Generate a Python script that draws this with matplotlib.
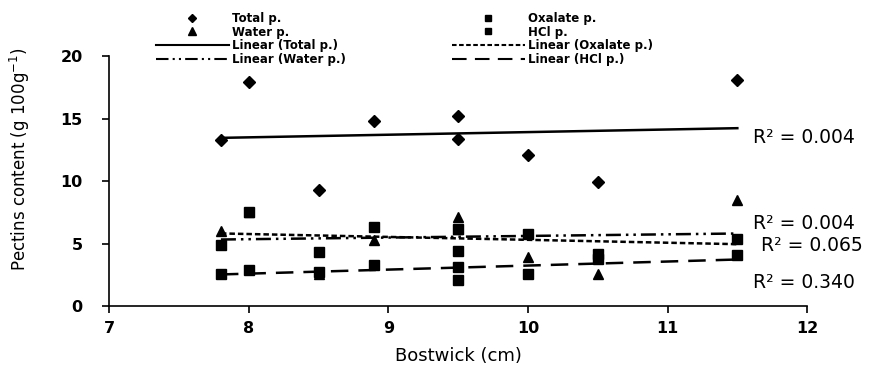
import numpy as np
import matplotlib
matplotlib.use("Agg")
import matplotlib.pyplot as plt
from matplotlib.lines import Line2D

plt.rcParams["font.family"] = ["DejaVu Sans"]

# Bostwick values (cm), shared by all series
bostwick = [7.8, 8.0, 8.5, 8.9, 9.5, 9.5, 10.0, 10.5, 11.5]

# pectin fractions (g 100g-1)
total_p = [13.3, 17.9, 9.3, 14.8, 15.2, 13.4, 12.1, 9.9, 18.1]
oxalate_p = [4.9, 7.5, 4.3, 6.3, 6.2, 4.4, 5.8, 4.2, 5.4]
water_p = [6.0, 7.5, 2.6, 5.3, 7.1, 6.2, 3.9, 2.6, 8.5]
hcl_p = [2.6, 2.9, 2.75, 3.3, 3.1, 2.1, 2.6, 3.8, 4.1]

r2_labels = ["R\u00b2 = 0.004", "R\u00b2 = 0.004", "R\u00b2 = 0.065", "R\u00b2 = 0.340"]

fig = plt.figure(figsize=(8.72, 3.69), dpi=100)
ax = fig.add_axes([0.1253, 0.1707, 0.8003, 0.6775])

x = np.array(bostwick)
xfit = np.array([min(bostwick), max(bostwick)])

# water first so the oxalate squares sit on top of it
series = [
    (water_p, "^", 6.5, (0, (6, 2, 1, 2, 1, 2))),
    (oxalate_p, "s", 6.5, (0, (2.2, 1.2))),
    (hcl_p, "s", 6.5, (0, (7, 4))),
    (total_p, "D", 6, "-"),
]

for y, mk, ms, ls in series:
    ax.plot(x, y, linestyle="none", marker=mk, markersize=ms, color="black")
    k, b = np.polyfit(x, y, 1)
    ax.plot(xfit, k * xfit + b, linestyle=ls, color="black", linewidth=1.8)

# R² labels next to trend lines
ax.text(11.61, 13.45, r2_labels[0], fontsize=13.5, va="center")
ax.text(11.61, 6.6, r2_labels[1], fontsize=13.5, va="center")
ax.text(11.67, 4.85, r2_labels[2], fontsize=13.5, va="center")
ax.text(11.61, 1.9, r2_labels[3], fontsize=13.5, va="center")

ax.set_xlim(7, 12)
ax.set_ylim(0, 20)
ax.set_xticks([7, 8, 9, 10, 11, 12])
ax.set_yticks([0, 5, 10, 15, 20])
for side in ["top", "right"]:
    ax.spines[side].set_visible(False)
ax.spines["left"].set_linewidth(1.2)
ax.spines["bottom"].set_linewidth(1.2)
ax.tick_params(axis="x", length=5, width=1.2, pad=6, labelsize=11.5)
ax.tick_params(axis="y", length=5, width=1.2, pad=14, labelsize=11.5)
for lab in ax.get_xticklabels() + ax.get_yticklabels():
    lab.set_fontweight("bold")

ax.set_xlabel("Bostwick (cm)", fontsize=13)
ax.xaxis.set_label_coords(0.5, -0.165)
ax.set_ylabel("Pectins content (g 100g$^{-1}$)", fontsize=12)
ax.yaxis.set_label_coords(-0.11, 0.585)

handles = [
    Line2D([], [], linestyle="none", marker="D", markersize=4.5, color="black"),
    Line2D([], [], linestyle="none", marker="^", markersize=5.5, color="black"),
    Line2D([], [], linestyle="-", color="black", linewidth=1.5),
    Line2D([], [], linestyle=(0, (6, 2, 1, 2, 1, 2)), color="black", linewidth=1.5),
    Line2D([], [], linestyle="none", marker="s", markersize=5, color="black"),
    Line2D([], [], linestyle="none", marker="s", markersize=5, color="black"),
    Line2D([], [], linestyle=(0, (2.2, 1.2)), color="black", linewidth=1.5),
    Line2D([], [], linestyle=(0, (7, 4)), color="black", linewidth=1.5),
]
labels = ["Total p.", "Water p.", "Linear (Total p.)", "Linear (Water p.)",
          "Oxalate p.", "HCl p.", "Linear (Oxalate p.)", "Linear (HCl p.)"]
fig.legend(handles, labels, ncol=2, loc="upper left", bbox_to_anchor=(0.169, 0.99),
           frameon=False, prop={"size": 8.5, "weight": "bold"}, handlelength=6.2,
           handletextpad=0.25, labelspacing=0.05, columnspacing=9, borderpad=0.2)

fig.savefig("out.png", dpi=100)
